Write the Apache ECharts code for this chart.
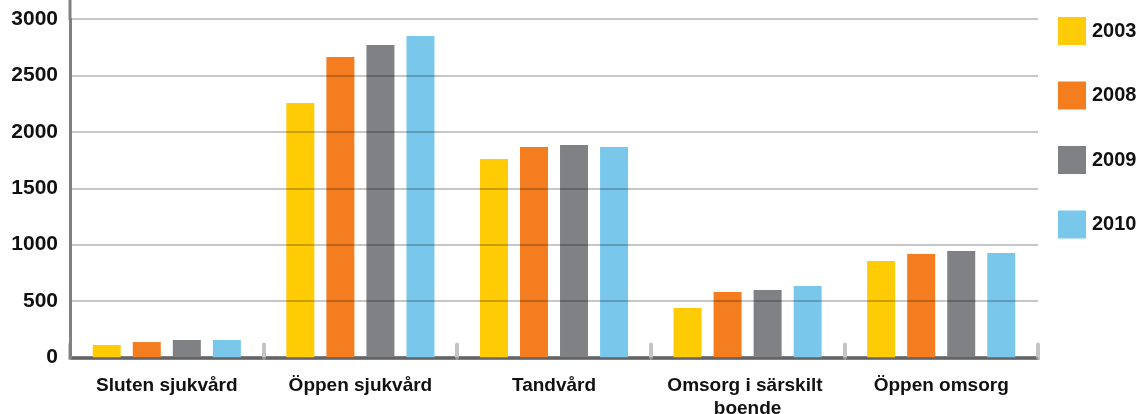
<!DOCTYPE html>
<html>
<head>
<meta charset="utf-8">
<script src="https://cdn.jsdelivr.net/npm/echarts@6/dist/echarts.min.js"></script>
<style>html,body{margin:0;padding:0;background:#fff;overflow:hidden;}#c{width:1144px;height:414px;}</style>
</head>
<body>
<div id="c"></div>
<script>
const categories = ['Sluten sjukvård', 'Öppen sjukvård', 'Tandvård', 'Omsorg i särskilt boende', 'Öppen omsorg'];
const years = ['2003', '2008', '2009', '2010'];
const v2003 = [111, 2255, 1759, 439, 855];
const v2008 = [137, 2663, 1866, 580, 917];
const v2009 = [155, 2770, 1883, 598, 944];
const v2010 = [155, 2849, 1866, 634, 926];
const yTicks = [0, 500, 1000, 1500, 2000, 2500, 3000];

const colors = ['#FFCB05', '#F47D20', '#808184', '#79C8EC'];
const values = [v2003, v2008, v2009, v2010];
const FONT = '"Liberation Sans", Arial, sans-serif';

const chart = echarts.init(document.getElementById('c'), null, {renderer: 'canvas'});
chart.setOption({
  animation: false,
  backgroundColor: '#fff',
  color: colors,
  grid: {left: 70, right: 106, top: 19, bottom: 56.5, containLabel: false, outerBoundsMode: 'none'},
  legend: {
    orient: 'vertical', left: 1058, top: 17, padding: 0,
    itemWidth: 28, itemHeight: 28, itemGap: 36.5,
    icon: 'rect',
    textStyle: {fontFamily: FONT, fontWeight: 'bold', fontSize: 20, color: '#111', padding: [0, 0, 0, 1]},
    data: years
  },
  xAxis: {
    type: 'category',
    data: categories,
    axisLine: {lineStyle: {color: '#808184', width: 4}},
    axisTick: {show: true, inside: true, length: 13, lineStyle: {color: '#c4c4c4', width: 4, cap: 'round'}},
    axisLabel: {
      interval: 0, margin: 17, fontFamily: FONT, fontWeight: 'bold', fontSize: 19, color: '#111',
      width: 190, overflow: 'break', lineHeight: 23
    }
  },
  yAxis: {
    type: 'value', min: 0, max: yTicks[yTicks.length - 1], interval: 500,
    z: 3,
    axisLine: {show: true, lineStyle: {color: '#808184', width: 3}},
    axisTick: {show: false},
    splitLine: {show: true, lineStyle: {color: 'rgba(0,0,0,0.22)', width: 2}},
    axisLabel: {
      margin: 12, fontFamily: FONT, fontWeight: 'bold', fontSize: 21, color: '#111',
      padding: [4, 0, 0, 0],
      formatter: v => String(v)
    }
  },
  graphic: [{
    type: 'line', z: 10,
    shape: {x1: 70, y1: 0, x2: 70, y2: 20},
    style: {stroke: '#808184', lineWidth: 3}
  }],
  series: years.map((y, i) => ({
    name: y, type: 'bar', data: values[i],
    barWidth: 28, barGap: '43%',
    itemStyle: {color: colors[i]}
  }))
});
</script>
</body>
</html>
